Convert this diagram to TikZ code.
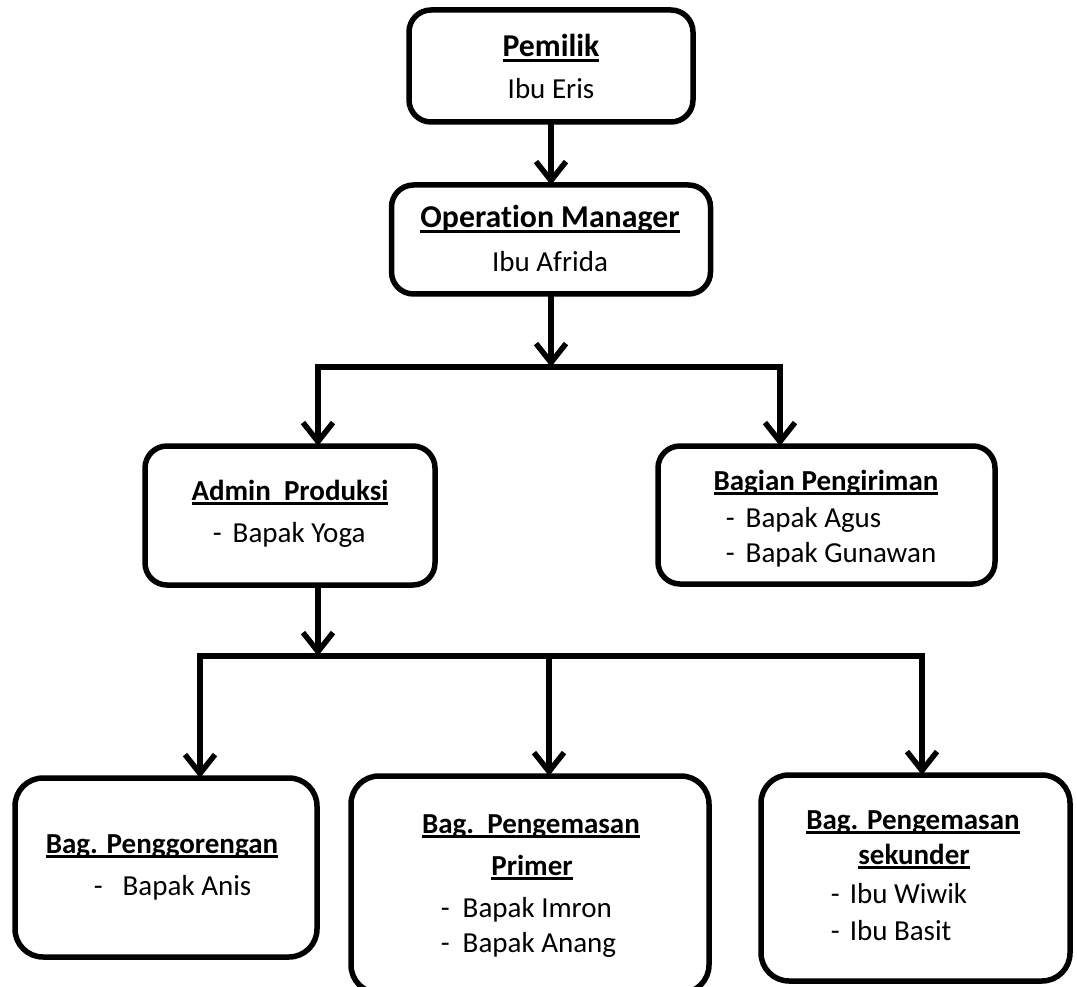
\documentclass[tikz,border=0pt]{standalone}
\usepackage{fontspec}
\setmainfont[Ligatures=NoCommon]{Carlito}
\usetikzlibrary{arrows.meta}
\newcommand{\myul}[1]{\leavevmode\setbox0\hbox{#1}\rlap{\rule[-4.8pt]{\wd0}{2.4pt}}\box0}
\begin{document}
\begin{tikzpicture}[x=1pt,y=-1pt, line width=5.5pt,
  node font=\fontsize{29pt}{35pt}\selectfont,
  box/.style={draw, rounded corners=22pt, inner sep=0pt, outer sep=0pt},
  bigbox/.style={box, rounded corners=28pt},
  ttl/.style={font=\bfseries, inner sep=0pt, anchor=base},
  bigttl/.style={ttl, font=\fontsize{31.8pt}{38pt}\selectfont\bfseries},
  txt/.style={inner sep=0pt, anchor=base},
  itm/.style={inner sep=0pt, anchor=base west},
  arr/.style={-{Straight Barb[length=19pt,width=30pt]}}]
\useasboundingbox (0,0) rectangle (1077,987);
\clip (0,0) rectangle (1077,987);

% boxes
\node[box, minimum width=284pt, minimum height=112pt] (pem) at (551,66) {};
\node[box, minimum width=319pt, minimum height=109pt] (om) at (551,239.5) {};
\node[box, minimum width=290pt, minimum height=139pt] (adm) at (290,515.5) {};
\node[box, minimum width=337pt, minimum height=138pt] (peng) at (826.5,515) {};
\node[bigbox, minimum width=302pt, minimum height=179pt] (pgr) at (166,867.5) {};
\node[bigbox, minimum width=358pt, minimum height=217pt] (mid) at (530,884.5) {};
\node[bigbox, minimum width=309pt, minimum height=206pt] (rgt) at (915.5,878) {};

% texts
\node[bigttl] (pemT) at (551,57) {\myul{Pemilik}};
\node[txt] (pemN) at (551,99) {Ibu Eris};
\node[bigttl] (omT) at (550,228) {\myul{Operation Manager}};
\node[txt] (omN) at (550,272) {Ibu Afrida};
\node[ttl] (admT) at (290,500) {\myul{Admin\ \ Produksi}};
\node[itm] (admN) at (210,542) {\makebox[20pt][l]{-}Bapak Yoga};
\node[ttl] (pengT) at (826,490) {\myul{Bagian Pengiriman}};
\node[itm] (pengN1) at (723,527) {\makebox[20pt][l]{-}Bapak Agus};
\node[itm] (pengN2) at (723,562) {\makebox[20pt][l]{-}Bapak Gunawan};
\node[ttl] (pgrT) at (162,853) {\myul{Bag. Penggorengan}};
\node[itm] (pgrN) at (91,895) {\makebox[29pt][l]{-}Bapak Anis};
\node[ttl] (midT1) at (531,833) {\myul{Bag.\ \ Pengemasan}};
\node[ttl] (midT2) at (532,875) {\myul{Primer}};
\node[itm] (midN1) at (438,917) {\makebox[22pt][l]{-}Bapak Imron};
\node[itm] (midN2) at (438,952) {\makebox[22pt][l]{-}Bapak Anang};
\node[ttl] (rgtT1) at (913,829) {\myul{Bag. Pengemasan}};
\node[ttl] (rgtT2) at (914,864) {\myul{sekunder}};
\node[itm] (rgtN1) at (828,903) {\makebox[19pt][l]{-}Ibu Wiwik};
\node[itm] (rgtN2) at (828,940) {\makebox[19pt][l]{-}Ibu Basit};

% connectors
\coordinate (j1) at (551,367);
\coordinate (a1) at (318,367);
\coordinate (p1) at (780,367);
\coordinate (j2) at (318,656);
\coordinate (b1) at (200,656);
\coordinate (b2) at (549,656);
\coordinate (b3) at (922,656);

\draw[arr] (pem) -- (om);
\draw[arr] (om) -- (j1);
\draw[arr] (j1) -- (a1) -- (a1 |- adm.north);
\draw[arr] (j1) -- (p1) -- (p1 |- peng.north);
\draw[arr] (a1 |- adm.south) -- (j2);
\draw[arr] (j2) -- (b1) -- (b1 |- pgr.north);
\draw[arr] (j2) -- (b3) -- (b3 |- rgt.north);
\draw[arr] (b2) -- (b2 |- mid.north);
\end{tikzpicture}
\end{document}
